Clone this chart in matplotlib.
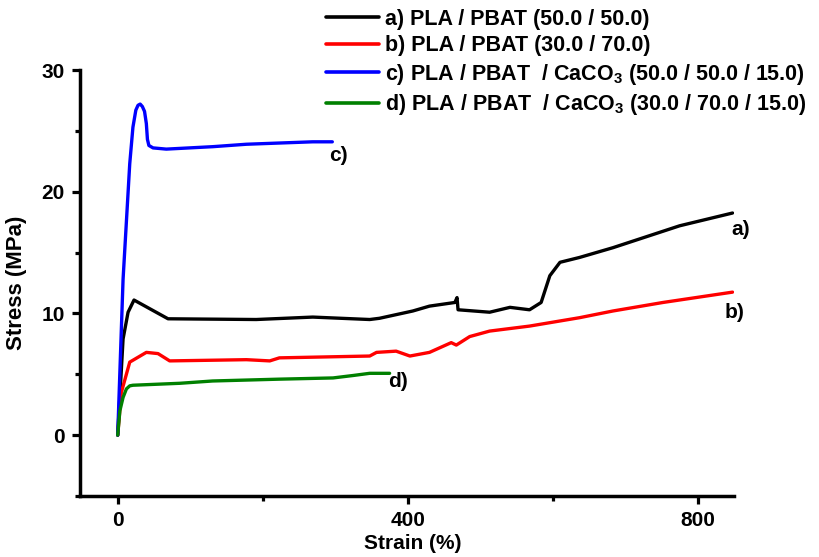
import matplotlib
matplotlib.use("Agg")
import matplotlib.pyplot as plt
from matplotlib.ticker import MultipleLocator

plt.rcParams['font.family'] = ['Liberation Sans', 'DejaVu Sans']
plt.rcParams['font.weight'] = 'bold'
plt.rcParams['mathtext.fontset'] = 'custom'
plt.rcParams['mathtext.bf'] = 'Liberation Sans:bold'
plt.rcParams['mathtext.rm'] = 'Liberation Sans:bold'

# Data (strain %, stress MPa)
a_x = [0, 7.4, 14.3, 22.5, 69.4, 191, 269, 347.6, 361, 407, 430, 465, 468, 469.4, 513, 541, 568, 584, 596, 610, 637, 683, 729, 775, 848]
a_y = [0, 7.9, 10.1, 11.1, 9.56, 9.5, 9.7, 9.5, 9.6, 10.2, 10.6, 10.9, 11.3, 10.3, 10.1, 10.5, 10.3, 10.9, 13.1, 14.2, 14.6, 15.4, 16.3, 17.2, 18.25]

b_x = [0, 5, 16.6, 39.5, 55.6, 71.7, 177.5, 209.7, 223, 347.6, 357, 384, 403, 430, 460, 467, 485.5, 513, 568, 637, 683, 752, 848]
b_y = [0, 3.5, 6.0, 6.8, 6.7, 6.1, 6.2, 6.1, 6.35, 6.5, 6.8, 6.9, 6.5, 6.8, 7.6, 7.4, 8.1, 8.55, 8.96, 9.65, 10.2, 10.9, 11.75]

c_x = [0, 7.4, 16.6, 21, 25, 28, 31, 34, 37, 39.5, 41, 43, 48.7, 67, 131, 177.5, 223, 269, 296]
c_y = [0, 12.8, 22.3, 25.3, 26.7, 27.1, 27.2, 27.0, 26.6, 25.6, 24.3, 23.8, 23.6, 23.5, 23.7, 23.9, 24.0, 24.1, 24.1]

d_x = [0, 3, 7.4, 12, 16.6, 21, 85.5, 131, 223, 297, 324.6, 347.6, 375]
d_y = [0, 2.0, 3.1, 3.8, 4.05, 4.1, 4.26, 4.45, 4.6, 4.7, 4.9, 5.08, 5.08]

labels = [
    'a) PLA / PBAT (50.0 / 50.0)',
    'b) PLA / PBAT (30.0 / 70.0)',
    r'c) PLA / PBAT  / CaCO$_\mathbf{3}$ (50.0 / 50.0 / 15.0)',
    r'd) PLA / PBAT  / CaCO$_\mathbf{3}$ (30.0 / 70.0 / 15.0)',
]
colors = ['black', 'red', 'blue', 'green']

fig = plt.figure(figsize=(8.19, 5.57), dpi=100)
ax = fig.add_axes([80/819, (557-496)/557, (734-80)/819, (496-70)/557])

series = [(a_x, a_y), (b_x, b_y), (c_x, c_y), (d_x, d_y)]
for (xs, ys), col, lab in zip(series, colors, labels):
    ax.plot(xs, ys, color=col, lw=2.4, label=lab, solid_capstyle='round')

# end labels
tag_kw = dict(textcoords='offset points', fontsize=15, fontweight='bold', va='center', ha='left')
ax.annotate('a)', xy=(a_x[-1], a_y[-1]), xytext=(-1, -12), **tag_kw)
ax.annotate('b)', xy=(b_x[-1], b_y[-1]), xytext=(-6, -15), **tag_kw)
ax.annotate('c)', xy=(c_x[-1], c_y[-1]), xytext=(-2, -10), **tag_kw)
ax.annotate('d)', xy=(d_x[-1], d_y[-1]), xytext=(-1, -6), **tag_kw)

ax.set_xlim(-52, 850)
ax.set_ylim(-5, 30)
ax.xaxis.set_major_locator(MultipleLocator(400))
ax.xaxis.set_minor_locator(MultipleLocator(200))
ax.yaxis.set_major_locator(MultipleLocator(10))
ax.yaxis.set_minor_locator(MultipleLocator(5))
ax.set_yticks([0, 10, 20, 30])

for s in ['top', 'right']:
    ax.spines[s].set_visible(False)
for s in ['left', 'bottom']:
    ax.spines[s].set_linewidth(2.5)
ax.tick_params(which='major', direction='out', length=6, width=2.3, labelsize=15, pad=5)
ax.tick_params(which='minor', direction='out', length=3.5, width=2.3)
for t in ax.get_xticklabels() + ax.get_yticklabels():
    t.set_fontweight('bold')

ax.set_xlabel('Strain (%)', fontsize=15, fontweight='bold')
ax.xaxis.set_label_coords((413-80)/654, -0.09)
ax.set_ylabel('Stress (MPa)', fontsize=16, fontweight='bold', labelpad=10)

leg = fig.legend(loc='upper left', bbox_to_anchor=(326/819, 1 - 9/557), frameon=False,
                 prop={'weight': 'bold', 'size': 15.5}, handlelength=2.45, handletextpad=0.3,
                 labelspacing=0.25, borderpad=0, borderaxespad=0)
for line in leg.get_lines():
    line.set_linewidth(2.6)

fig.savefig('out.png', dpi=100)
